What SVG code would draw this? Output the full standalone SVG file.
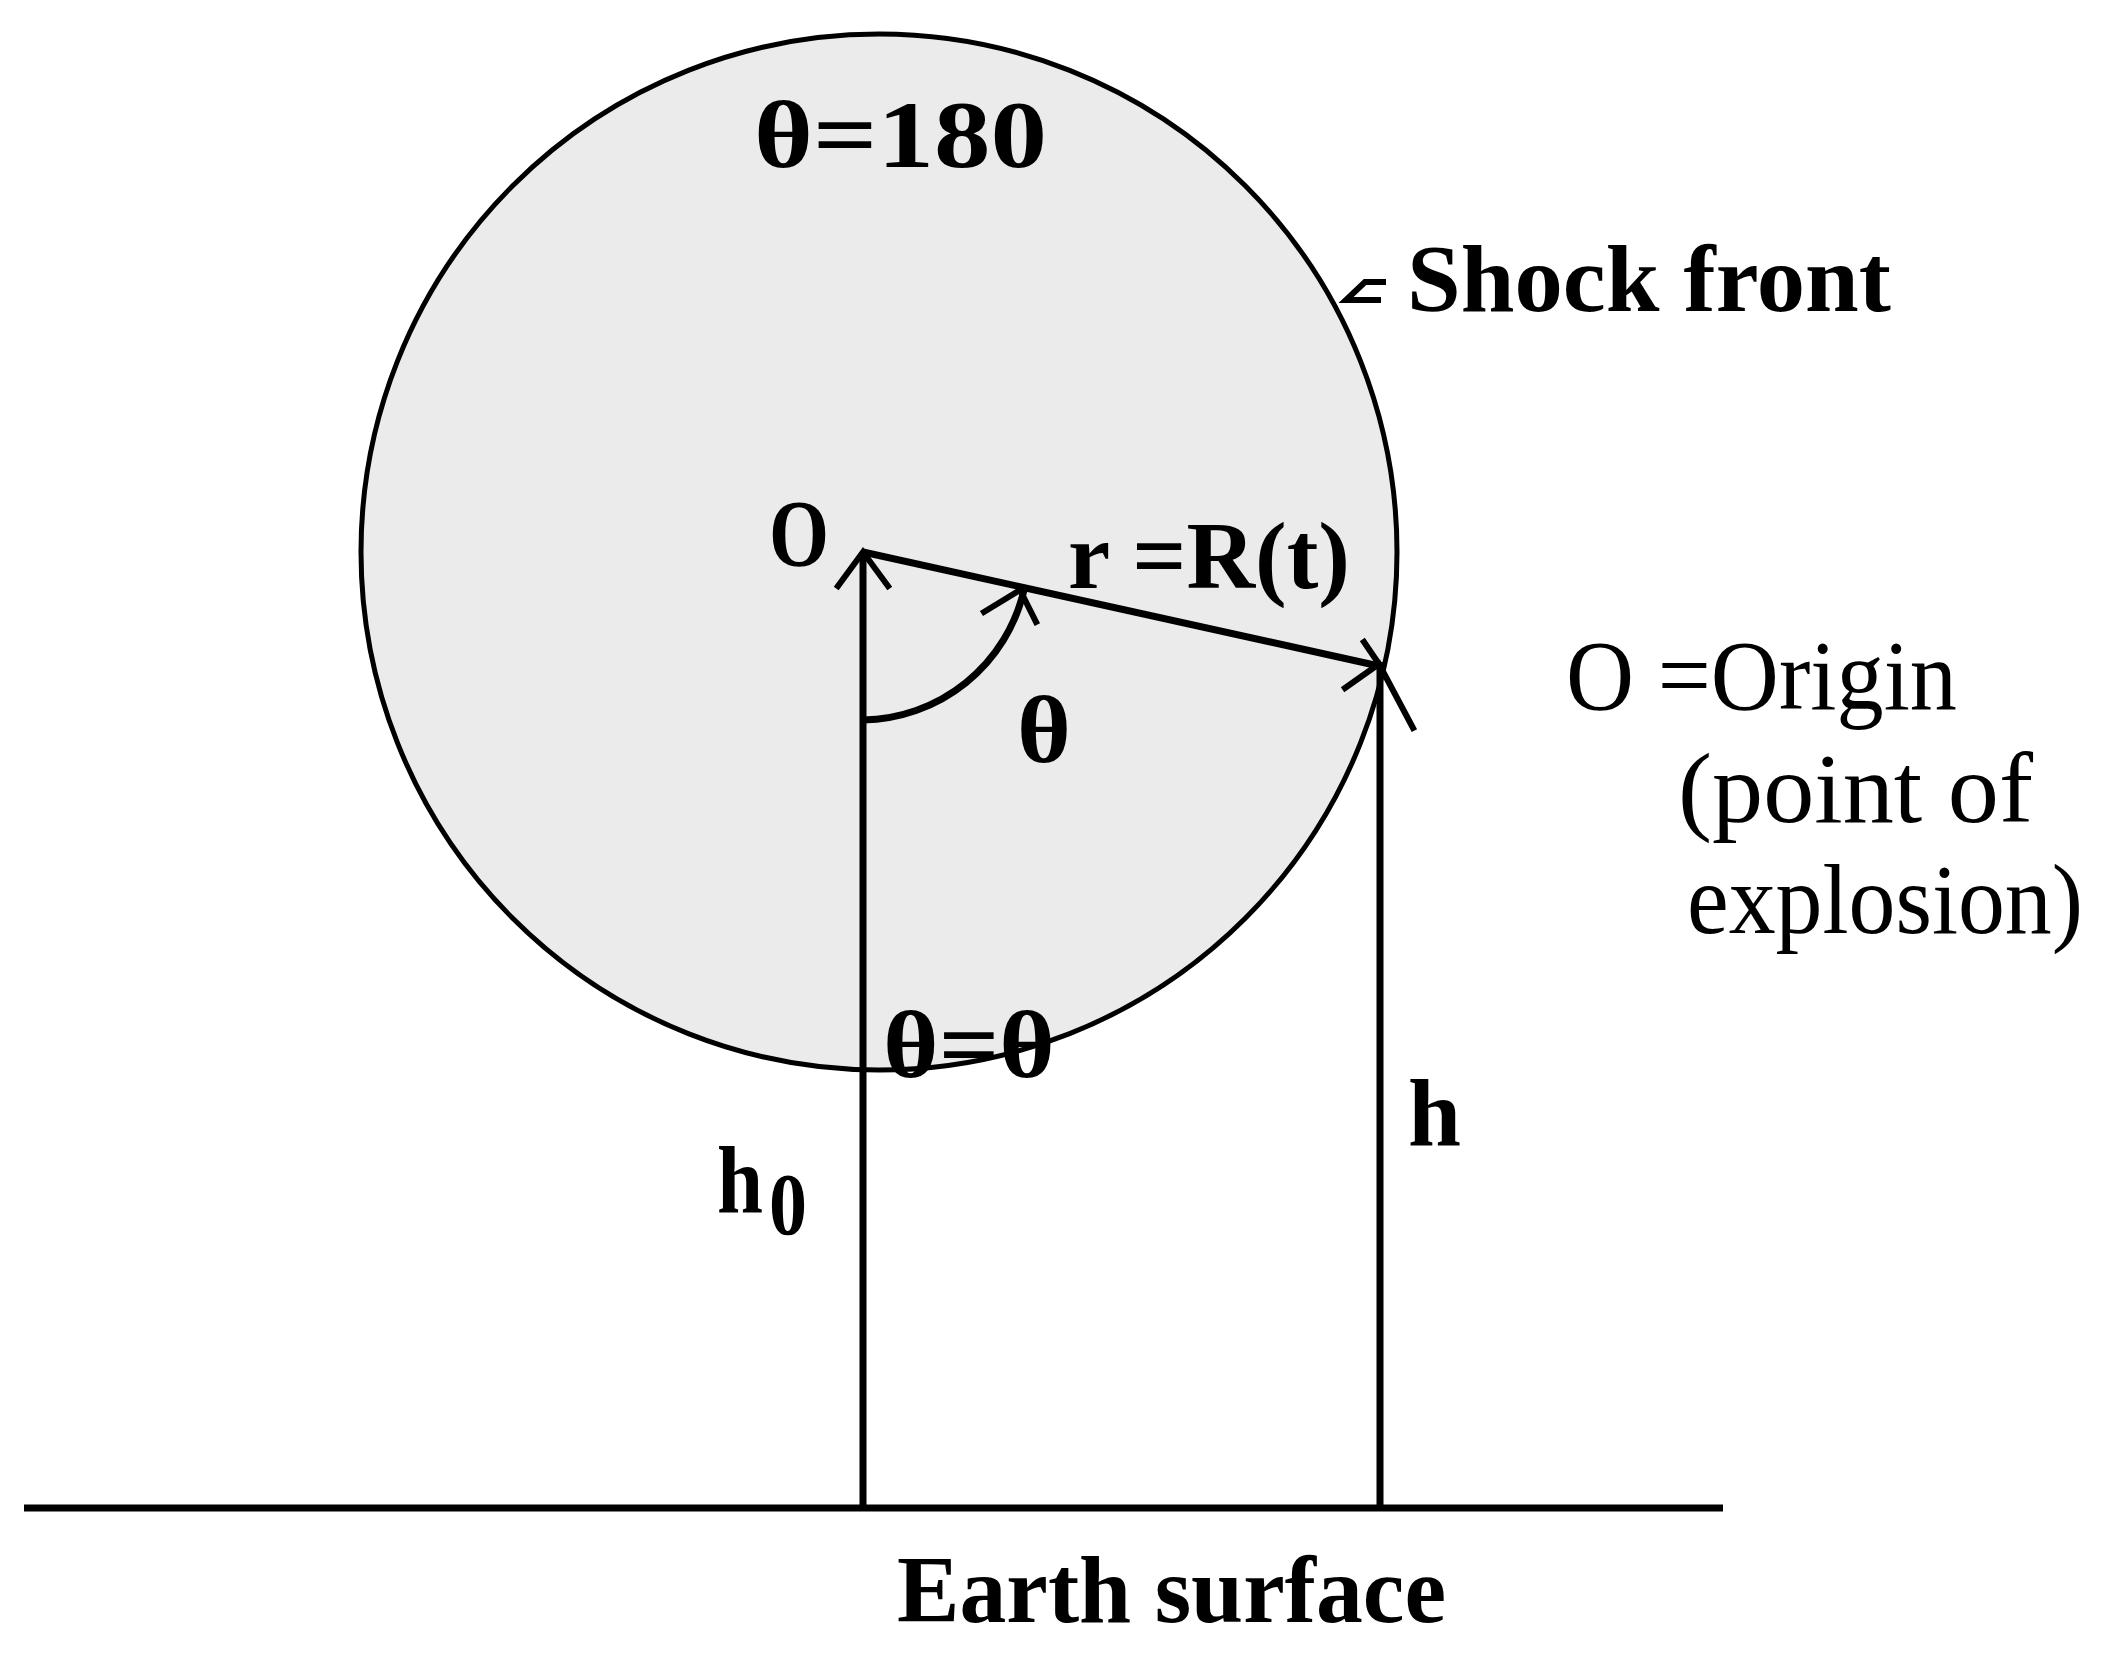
<svg xmlns="http://www.w3.org/2000/svg" width="2106" height="1659" viewBox="0 0 2106 1659">
<style>
.b{font-family:"Liberation Serif","Times New Roman",serif;font-weight:bold;font-size:96px;fill:#000}
.n{font-family:"Liberation Serif","Times New Roman",serif;font-size:100px;fill:#000}
.ln{fill:none;stroke:#000;stroke-width:7;stroke-linecap:butt}
.ah{fill:none;stroke:#000;stroke-width:6;stroke-linecap:square}
</style>
<rect width="2106" height="1659" fill="#fff"/>
<g id="shock-sphere">
<circle cx="879" cy="552" r="518" fill="#ebebeb" stroke="#000" stroke-width="5"/>
</g>
<g id="connectors">
<path class="ln" d="M24,1508 H1723" stroke-width="8"/>
<path class="ln" d="M863,1508 V552"/>
<path class="ln" d="M1380,1508 V662"/>
<path class="ln" d="M863,552 L1379,666"/>
<path class="ln" d="M863,720 A168,168 0 0 0 1024,590"/>
<path class="ah" d="M838,586 L863,552 L888,586"/>
<path class="ah" d="M984,612 L1020,590 L1036,622"/>
<path class="ah" d="M1345,688 L1379,664 L1413,728 M1379,664 L1364,642"/>
<path class="ah" d="M1383,282 H1365 L1346,300 H1378"/>
</g>
<g id="label-theta180"><text class="b" x="754" y="167" textLength="293" lengthAdjust="spacingAndGlyphs">θ=180</text></g>
<g id="label-shock-front"><text class="b" x="1407" y="311" textLength="484" lengthAdjust="spacingAndGlyphs">Shock front</text></g>
<g id="label-O"><text class="b" x="769" y="566" textLength="60" lengthAdjust="spacingAndGlyphs">O</text></g>
<g id="label-r"><text class="b" x="1068" y="588" textLength="282" lengthAdjust="spacingAndGlyphs">r =R(t)</text></g>
<g id="label-theta"><text class="b" x="1017" y="762" textLength="54" lengthAdjust="spacingAndGlyphs">θ</text></g>
<g id="label-theta0"><text class="b" x="883" y="1077" textLength="172" lengthAdjust="spacingAndGlyphs">θ=θ</text></g>
<g id="label-h0"><text class="b" x="717" y="1212"><tspan textLength="46" lengthAdjust="spacingAndGlyphs">h</tspan><tspan x="769" y="1234" font-size="88" textLength="38" lengthAdjust="spacingAndGlyphs">0</tspan></text></g>
<g id="label-h"><text class="b" x="1408" y="1145" textLength="53" lengthAdjust="spacingAndGlyphs">h</text></g>
<g id="label-earth"><text class="b" x="897" y="1622" textLength="549" lengthAdjust="spacingAndGlyphs">Earth surface</text></g>
<g id="legend">
<text class="n" x="1566" y="709" textLength="391" lengthAdjust="spacingAndGlyphs">O =Origin</text>
<text class="n" x="1678" y="822" textLength="355" lengthAdjust="spacingAndGlyphs">(point of</text>
<text class="n" x="1687" y="933" textLength="396" lengthAdjust="spacingAndGlyphs">explosion)</text>
</g>
</svg>
